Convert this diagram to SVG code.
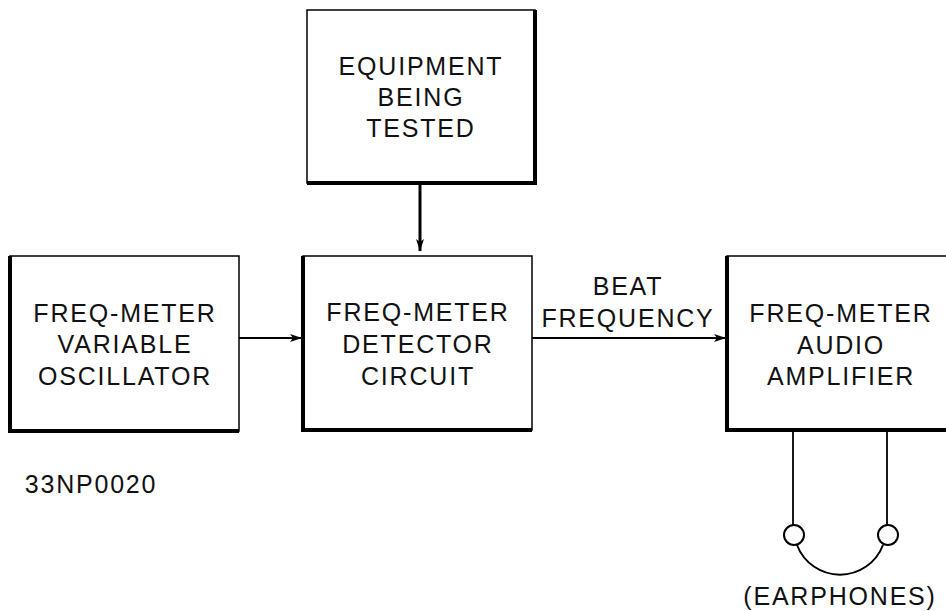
<svg xmlns="http://www.w3.org/2000/svg" width="946" height="611" viewBox="0 0 946 611">
<style>
text{font-family:"Liberation Sans",Arial,sans-serif;font-size:25px;letter-spacing:1.8px;fill:#111;text-anchor:middle}
.box{fill:#fff;stroke:#000;stroke-width:1.5}
.thick{stroke:#000;stroke-width:4;fill:none}
.conn{stroke:#000;stroke-width:1.8;fill:none}
</style>
<defs>
<marker id="ah" viewBox="0 0 12 8" refX="12" refY="4" markerWidth="12" markerHeight="8" markerUnits="userSpaceOnUse" orient="auto">
<path d="M0,0 L12,4 L0,8 L3,4 Z" fill="#000"/>
</marker>
</defs>
<rect width="946" height="611" fill="#fff"/>
<g id="connectors">
<line class="conn" x1="239" y1="338" x2="302" y2="338" marker-end="url(#ah)"/>
<line x1="420" y1="183" x2="420" y2="251" stroke="#000" stroke-width="3" marker-end="url(#ah)"/>
<line class="conn" x1="532" y1="338" x2="726" y2="338" marker-end="url(#ah)"/>
<text x="628" y="295">BEAT</text>
<text x="628" y="327">FREQUENCY</text>
</g>
<g id="equipment">
<rect class="box" x="307" y="10" width="228" height="173"/>
<polyline class="thick" points="535,10 535,183 307,183"/>
<text x="421" y="75">EQUIPMENT</text>
<text x="421" y="106">BEING</text>
<text x="421" y="137">TESTED</text>
</g>
<g id="oscillator">
<rect class="box" x="10" y="256" width="229" height="175"/>
<polyline class="thick" points="10,256 10,431 239,431"/>
<text x="125" y="322">FREQ-METER</text>
<text x="125" y="353">VARIABLE</text>
<text x="125" y="385">OSCILLATOR</text>
</g>
<g id="detector">
<rect class="box" x="303" y="256" width="229" height="174"/>
<polyline class="thick" points="303,256 303,430 532,430"/>
<text x="418" y="321">FREQ-METER</text>
<text x="418" y="353">DETECTOR</text>
<text x="418" y="385">CIRCUIT</text>
</g>
<g id="amplifier">
<rect class="box" x="727" y="256" width="240" height="174"/>
<polyline class="thick" points="727,256 727,430 950,430"/>
<text x="841" y="322">FREQ-METER</text>
<text x="841" y="354">AUDIO</text>
<text x="841" y="385">AMPLIFIER</text>
</g>
<g id="earphones">
<line class="conn" x1="793" y1="431" x2="793" y2="525"/>
<line class="conn" x1="887" y1="431" x2="887" y2="525"/>
<circle cx="794" cy="535" r="10" fill="none" stroke="#000" stroke-width="2"/>
<circle cx="888" cy="535" r="10" fill="none" stroke="#000" stroke-width="2"/>
<path d="M797,545 A46,46 0 0 0 883,545" fill="none" stroke="#000" stroke-width="2"/>
<text x="840" y="605">(EARPHONES)</text>
</g>
<g id="label">
<text x="91" y="493">33NP0020</text>
</g>
</svg>
